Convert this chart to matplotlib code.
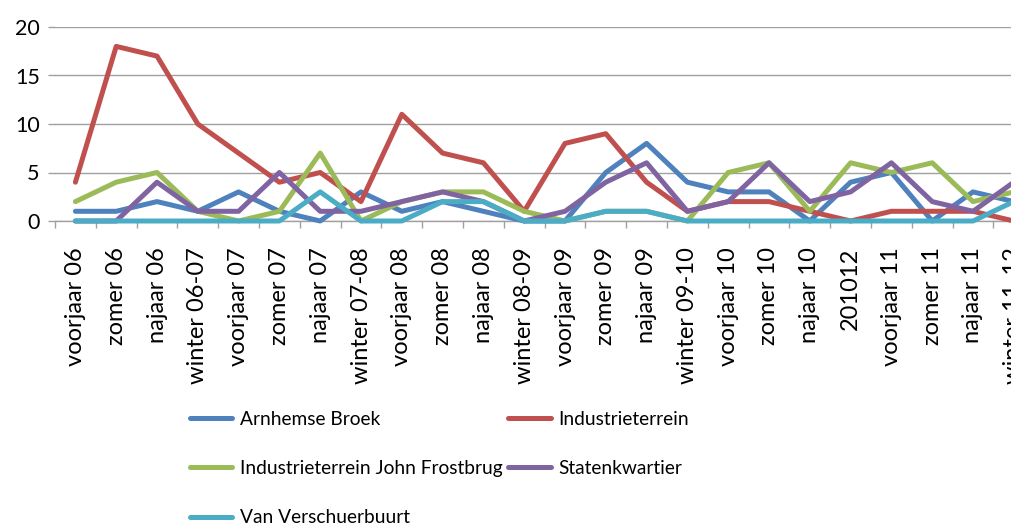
import matplotlib
matplotlib.use("Agg")
import matplotlib.pyplot as plt
import numpy as np

# Seasons (last label is cut off at the right edge in the original)
seasons = ["voorjaar 06", "zomer 06", "najaar 06", "winter 06-07",
           "voorjaar 07", "zomer 07", "najaar 07", "winter 07-08",
           "voorjaar 08", "zomer 08", "najaar 08", "winter 08-09",
           "voorjaar 09", "zomer 09", "najaar 09", "winter 09-10",
           "voorjaar 10", "zomer 10", "najaar 10", "201012",
           "voorjaar 11", "zomer 11", "najaar 11", "winter 11-12"]

arnhemse_broek = [1, 1, 2, 1, 3, 1, 0, 3, 1, 2, 1, 0, 0, 5, 8, 4, 3, 3, 0, 4, 5, 0, 3, 2]
industrieterrein = [4, 18, 17, 10, 7, 4, 5, 2, 11, 7, 6, 1, 8, 9, 4, 1, 2, 2, 1, 0, 1, 1, 1, 0]
john_frostbrug = [2, 4, 5, 1, 0, 1, 7, 0, 2, 3, 3, 1, 0, 1, 1, 0, 5, 6, 1, 6, 5, 6, 2, 3]
statenkwartier = [0, 0, 4, 1, 1, 5, 1, 1, 2, 3, 2, 0, 1, 4, 6, 1, 2, 6, 2, 3, 6, 2, 1, 4]
van_verschuerbuurt = [0, 0, 0, 0, 0, 0, 3, 0, 0, 2, 2, 0, 0, 1, 1, 0, 0, 0, 0, 0, 0, 0, 0, 2]

series = [
    ("Arnhemse Broek", arnhemse_broek, "#4F81BD"),
    ("Industrieterrein", industrieterrein, "#C0504D"),
    ("Industrieterrein John Frostbrug", john_frostbrug, "#9BBB59"),
    ("Statenkwartier", statenkwartier, "#8064A2"),
    ("Van Verschuerbuurt", van_verschuerbuurt, "#4BACC6"),
]

plt.rcParams["font.family"] = ["Lato", "DejaVu Sans"]

fig = plt.figure(figsize=(10.11, 5.25), dpi=100)
# plot area runs past the right edge, as in the cropped original
ax = fig.add_axes([55 / 1011, 1 - 221 / 525, (24 * 40.8) / 1011, (221 - 27) / 525])

x = np.arange(len(seasons))
handles = {}
for name, vals, color in series:
    (ln,) = ax.plot(x, vals, color=color, linewidth=3.6, label=name,
                    solid_joinstyle="round", solid_capstyle="round", clip_on=False, zorder=3)
    handles[name] = ln

ax.set_xlim(-0.5, len(seasons) - 0.5)
ax.set_ylim(0, 20)
ax.set_yticks([0, 5, 10, 15, 20])
ax.yaxis.grid(True, color="#A0A0A0", linewidth=1.0)
ax.set_axisbelow(True)

for s in ["top", "right", "left"]:
    ax.spines[s].set_visible(False)
ax.spines["bottom"].set_color("#A0A0A0")
ax.spines["bottom"].set_linewidth(1.0)

ax.set_xticks(x)
ax.set_xticklabels(seasons, rotation=90, fontsize=17, va="top", ha="center")
ax.tick_params(axis="x", which="major", length=0, pad=19)
ax.set_xticks(np.arange(len(seasons) + 1) - 0.5, minor=True)
ax.tick_params(axis="x", which="minor", length=5, color="#A0A0A0", width=1.0)
ax.tick_params(axis="y", length=5, color="#A0A0A0", width=1.0, labelsize=15.5, pad=6)

order = ["Arnhemse Broek", "Industrieterrein John Frostbrug", "Van Verschuerbuurt",
         "Industrieterrein", "Statenkwartier"]
fig.legend([handles[n] for n in order], order, loc="upper left",
           bbox_to_anchor=(190 / 1011, 1 - 411 / 525), ncol=2, frameon=False,
           fontsize=13.8, handlelength=2.2, handletextpad=0.4, columnspacing=0.3,
           labelspacing=1.68, borderpad=0, borderaxespad=0)

fig.savefig("out.png", dpi=100)
